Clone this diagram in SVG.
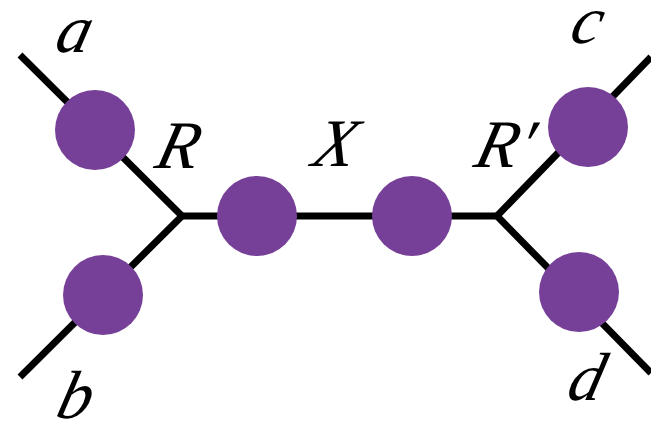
<svg xmlns="http://www.w3.org/2000/svg" width="651" height="425" viewBox="0 0 651 425">
<style>
.e{stroke:#000;stroke-width:7;fill:none}
.n{fill:#763F98}
.t{font-family:"Liberation Serif","Times New Roman",serif;font-style:italic;font-size:68px;fill:#000}
</style>
<rect width="651" height="425" fill="#fff"/>
<g id="connectors">
<polyline class="e" points="20,55 182,216 20,377"/>
<line class="e" x1="182" y1="216" x2="497" y2="216"/>
<polyline class="e" points="651,57 497,216 651,373"/>
</g>
<g id="node-a"><circle class="n" cx="95" cy="130" r="40"/></g>
<g id="node-b"><circle class="n" cx="103" cy="295" r="40"/></g>
<g id="node-x1"><circle class="n" cx="257" cy="216" r="40"/></g>
<g id="node-x2"><circle class="n" cx="412" cy="216" r="40"/></g>
<g id="node-c"><circle class="n" cx="588" cy="127" r="40"/></g>
<g id="node-d"><circle class="n" cx="579" cy="292" r="40"/></g>
<g id="labels">
<text class="t" transform="translate(53,52) skewX(-14)">a</text>
<text class="t" transform="translate(54,418) skewX(-14)">b</text>
<text class="t" transform="translate(568,43) skewX(-14)">c</text>
<text class="t" transform="translate(565,400) skewX(-14)">d</text>
<text class="t" transform="translate(153,168) skewX(-14)">R</text>
<text class="t" transform="translate(310,166) skewX(-14)">X</text>
<text class="t" transform="translate(472,167) skewX(-14)">R′</text>
</g>
</svg>
